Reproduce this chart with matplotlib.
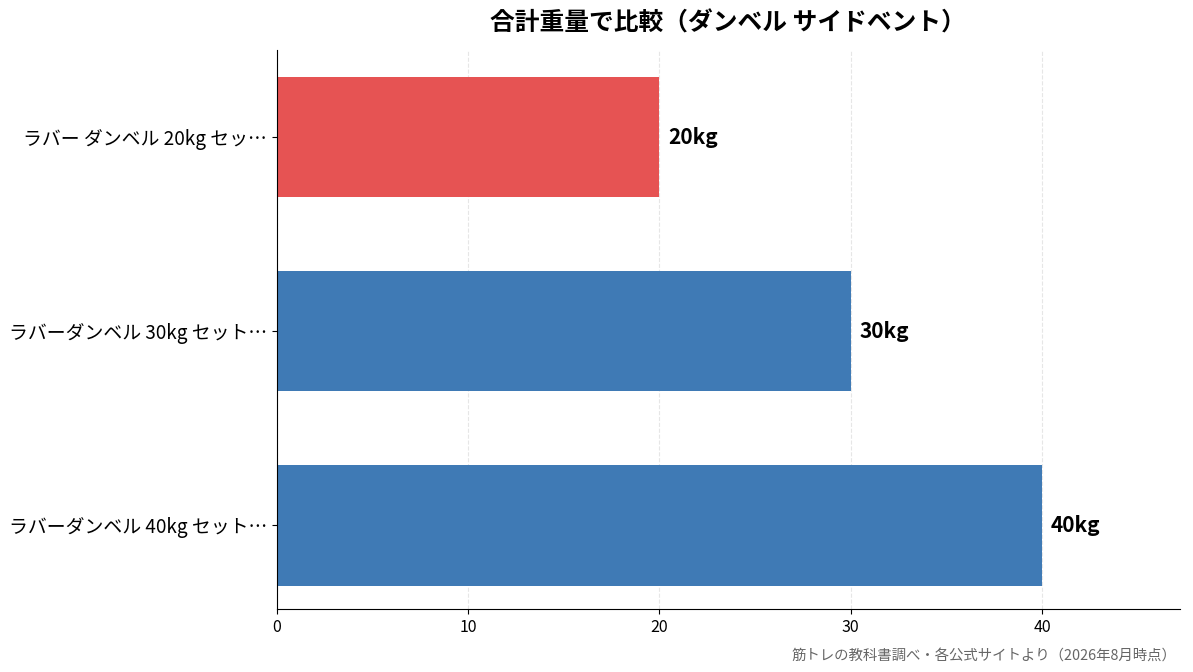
import matplotlib
matplotlib.use("Agg")
import matplotlib.pyplot as plt

plt.rcParams['font.family'] = ['Noto Sans CJK JP', 'DejaVu Sans']

labels = ['ラバー ダンベル 20kg セッ…', 'ラバーダンベル 30kg セット…', 'ラバーダンベル 40kg セット…']
weights = [20, 30, 40]
colors = ['#E65353', '#3F7AB5', '#3F7AB5']

fig = plt.figure(figsize=(11.93, 6.72), dpi=100)
ax = fig.add_axes([0.232, 0.094, 0.757, 0.832])

ypos = list(range(len(labels)))
ax.barh(ypos, weights, height=0.62, color=colors)
ax.set_yticks(ypos)
ax.set_yticklabels(labels, fontsize=13.6)
ax.invert_yaxis()
ax.set_xlim(0, max(weights) * 1.18)
ax.set_ylim(2.43, -0.45)

for y, w in zip(ypos, weights):
    ax.text(w + 0.45, y, f'{w}kg', va='center', ha='left', fontsize=15, fontweight='bold')

ax.set_xticks([0, 10, 20, 30, 40])
ax.tick_params(axis='x', labelsize=11.5)
ax.xaxis.grid(True, linestyle='--', color='#e6e6e6', linewidth=0.8)
ax.set_axisbelow(True)
for s in ['top', 'right']:
    ax.spines[s].set_visible(False)

ax.set_title('合計重量で比較（ダンベル サイドベント）', fontsize=17.8, fontweight='bold', pad=14)
fig.text(0.986, 0.025, '筋トレの教科書調べ・各公式サイトより（2026年8月時点）', ha='right', va='center',
         fontsize=10.4, color='#666666')

fig.savefig('out.png', dpi=100)
